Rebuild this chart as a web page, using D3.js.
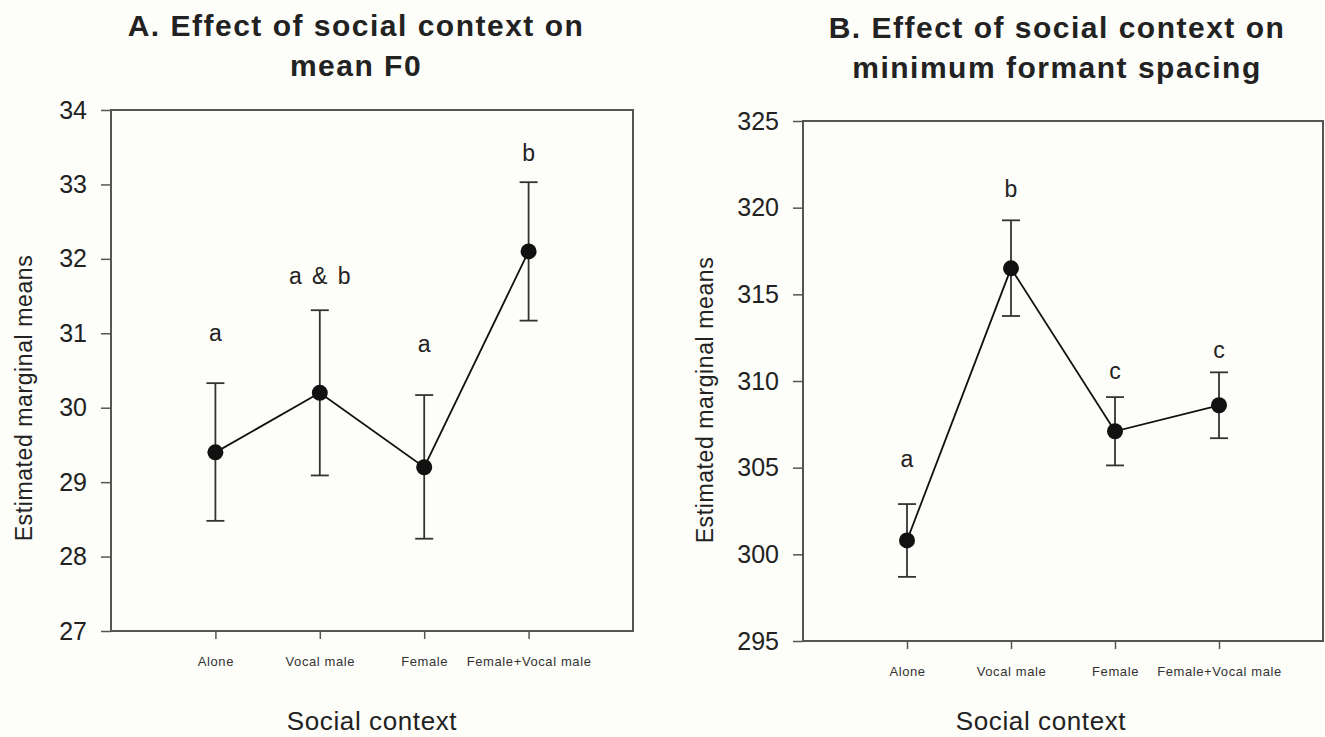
<!DOCTYPE html>
<html>
<head>
<meta charset="utf-8">
<script src="https://cdn.jsdelivr.net/npm/d3@7"></script>
<style>
  body { margin: 0; background: #fdfdf9; }
  svg { display: block; font-family: "Liberation Sans", Arial, sans-serif; }
</style>
</head>
<body>
<svg id="chart" width="1325" height="737"></svg>
<script>
// categories shared by both panels
var contexts = ["Alone", "Vocal male", "Female", "Female+Vocal male"];

// panel A: mean F0
var f0Mean  = [29.4, 30.2, 29.2, 32.1];
var f0Low   = [28.48, 29.09, 28.24, 31.17];
var f0High  = [30.33, 31.31, 30.17, 33.03];
var f0Letters  = ["a", "a & b", "a", "b"];
var f0LetterAt = [31.0, 31.77, 30.86, 33.42];
var f0Ticks = [27, 28, 29, 30, 31, 32, 33, 34];

// panel B: minimum formant spacing
var fsMean  = [300.8, 316.5, 307.1, 308.6];
var fsLow   = [298.7, 313.75, 305.13, 306.7];
var fsHigh  = [302.9, 319.27, 309.07, 310.5];
var fsLetters  = ["a", "b", "c", "c"];
var fsLetterAt = [305.5, 321.1, 310.57, 311.8];
var fsTicks = [295, 300, 305, 310, 315, 320, 325];

var svg = d3.select("#chart");
var ink = "#222";
var axisCol = "#555";
var font = "'Liberation Sans', Arial, sans-serif";

function panel(p) {
	var g = svg.append("g");
	var x = d3.scaleLinear().domain([0, 5]).range([p.left, p.right]);
	var y = d3.scaleLinear().domain(d3.extent(p.ticks)).range([p.bottom, p.top]);

	// title
	var t = g.append("text")
		.attr("x", p.titleX).attr("y", p.titleY)
		.attr("text-anchor", "middle")
		.style("font-size", "30px").style("font-weight", "bold")
		.style("letter-spacing", "1.5px").attr("fill", ink);
	p.title.forEach(function(line, i) {
		t.append("tspan").attr("x", p.titleX).attr("dy", i ? 40 : 0).text(line);
	});

	// y axis
	var ya = g.append("g").attr("transform", "translate(" + p.left + ",0)")
		.call(d3.axisLeft(y).tickValues(p.ticks).tickFormat(d3.format("d"))
			.tickSize(10).tickPadding(14));
	ya.select(".domain").remove();
	ya.selectAll(".tick line").attr("stroke", axisCol).attr("stroke-width", 1.5);
	ya.selectAll(".tick text").attr("font-size", 25).attr("fill", ink)
		.attr("font-family", font);

	// x axis
	var xa = g.append("g").attr("transform", "translate(0," + p.bottom + ")")
		.call(d3.axisBottom(x).tickValues([1, 2, 3, 4])
			.tickFormat(function(d) { return contexts[d - 1]; })
			.tickSize(8).tickPadding(p.xPad));
	xa.select(".domain").remove();
	xa.selectAll(".tick line").attr("stroke", axisCol).attr("stroke-width", 1.5);
	xa.selectAll(".tick text").attr("font-size", 13).attr("fill", "#333")
		.style("letter-spacing", "0.6px")
		.attr("font-family", font);

	// frame
	g.append("rect")
		.attr("x", p.left).attr("y", p.top)
		.attr("width", p.right - p.left).attr("height", p.bottom - p.top)
		.attr("fill", "none").attr("stroke", axisCol).attr("stroke-width", 2);

	// axis titles
	g.append("text")
		.attr("transform", "translate(" + p.yTitleX + "," + p.yTitleY + ") rotate(-90)")
		.attr("text-anchor", "middle").style("font-size", "23px")
		.style("letter-spacing", "0.6px").attr("fill", ink)
		.text("Estimated marginal means");
	g.append("text")
		.attr("x", (p.left + p.right) / 2 + p.xTitleShift).attr("y", p.xTitleY)
		.attr("text-anchor", "middle").style("font-size", "26px")
		.style("letter-spacing", "0.6px").attr("fill", ink)
		.text("Social context");

	var idx = d3.range(contexts.length);

	// error bars
	var eb = g.append("g").attr("stroke", "#333").attr("stroke-width", 1.8);
	idx.forEach(function(i) {
		var cx = x(i + 1);
		eb.append("line").attr("x1", cx).attr("x2", cx)
			.attr("y1", y(p.low[i])).attr("y2", y(p.high[i]));
		[p.low[i], p.high[i]].forEach(function(v) {
			eb.append("line").attr("x1", cx - 9).attr("x2", cx + 9)
				.attr("y1", y(v)).attr("y2", y(v));
		});
	});

	// connecting line
	g.append("path")
		.datum(idx)
		.attr("fill", "none").attr("stroke", "#111").attr("stroke-width", 1.8)
		.attr("d", d3.line().x(function(i) { return x(i + 1); })
			.y(function(i) { return y(p.mean[i]); }));

	// points
	g.selectAll("circle.pt").data(idx).enter().append("circle")
		.attr("class", "pt")
		.attr("cx", function(i) { return x(i + 1); })
		.attr("cy", function(i) { return y(p.mean[i]); })
		.attr("r", 8).attr("fill", "#111");

	// significance letters
	g.selectAll("text.let").data(idx).enter().append("text")
		.attr("class", "let")
		.attr("x", function(i) { return x(i + 1); })
		.attr("y", function(i) { return y(p.letterAt[i]); })
		.attr("dy", "0.35em").attr("text-anchor", "middle")
		.style("font-size", "23px").attr("fill", ink)
		.style("word-spacing", "4px")
		.text(function(i) { return p.letters[i]; });
}

panel({
	left: 111, right: 633, top: 110, bottom: 631,
	ticks: f0Ticks, mean: f0Mean, low: f0Low, high: f0High,
	letters: f0Letters, letterAt: f0LetterAt,
	title: ["A. Effect of social context on", "mean F0"],
	titleX: 356, titleY: 36, xPad: 18,
	yTitleX: 32, yTitleY: 398, xTitleY: 730, xTitleShift: 0
});

panel({
	left: 803, right: 1323, top: 121, bottom: 641,
	ticks: fsTicks, mean: fsMean, low: fsLow, high: fsHigh,
	letters: fsLetters, letterAt: fsLetterAt,
	title: ["B. Effect of social context on", "minimum formant spacing"],
	titleX: 1057, titleY: 38, xPad: 18,
	yTitleX: 713, yTitleY: 400, xTitleY: 730, xTitleShift: -22
});
</script>
</body>
</html>
